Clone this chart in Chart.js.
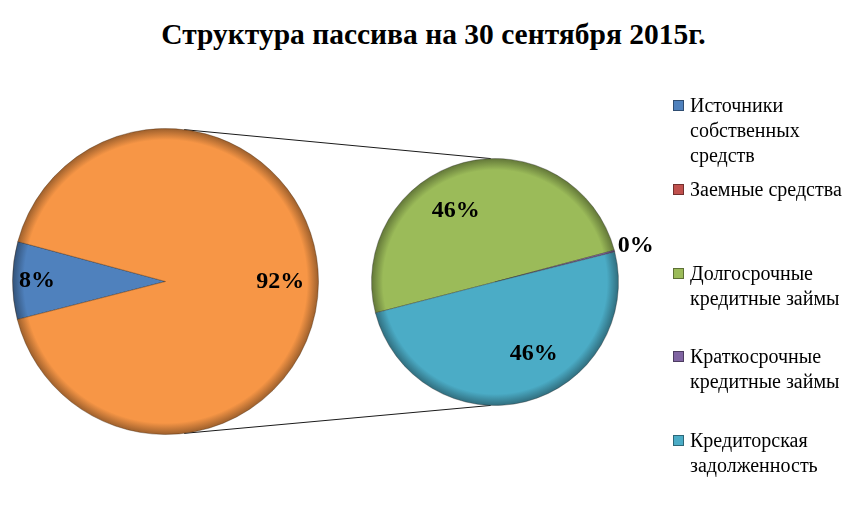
<!DOCTYPE html>
<html>
<head>
<meta charset="utf-8">
<script src="https://cdn.jsdelivr.net/npm/chart.js@4.4.0/dist/chart.umd.min.js"></script>
<style>
  body { margin:0; background:#fff; width:867px; height:514px; position:relative; overflow:hidden;
         font-family:"Liberation Serif","Times New Roman",serif; }
  #title { position:absolute; left:0; width:867px; top:17px; text-align:center; font-weight:bold; font-size:29.5px; line-height:34px; }
  #lines { position:absolute; left:0; top:0; z-index:0; }
  #pie1, #pie2 { position:absolute; z-index:1; }
  #pie1 { left:12px; top:128px; }
  #pie2 { left:331px; top:118px; }
  #legend { position:absolute; left:672px; top:93px; z-index:2; }
  .item { height:83.75px; position:relative; }
  .mark { position:absolute; left:1px; top:7px; width:9px; height:9px; border:1px solid; }
  .txt { margin-left:18px; width:162px; font-size:20px; line-height:25px; color:#000; }
</style>
</head>
<body>
<div id="title"></div>
<canvas id="lines" width="867" height="514"></canvas>
<canvas id="pie1" width="307" height="307"></canvas>
<canvas id="pie2" width="328" height="328"></canvas>
<div id="legend"></div>
<script>
const title = "Структура пассива на 30 сентября 2015г."
const categories = ["Источники собственных средств", "Заемные средства", "Долгосрочные кредитные займы", "Краткосрочные кредитные займы", "Кредиторская задолженность"]
const shares = [8.2, null, 45.8, 0.2, 45.8]
const colors = ["#4F81BD", "#C0504D", "#9BBB59", "#8064A2", "#4BACC6"]
const otherLabel = "Другие"
const otherColor = "#F79646"
const secondCount = 3   // last three points go to the second pie

const total = shares.reduce((s, v) => s + (v || 0), 0)
const firstVals = shares.slice(0, shares.length - secondCount)
const secondVals = shares.slice(shares.length - secondCount)
const otherVal = secondVals.reduce((s, v) => s + (v || 0), 0)

document.getElementById("title").textContent = title

function shade(hex, f){
    const n = parseInt(hex.slice(1), 16)
    const r = Math.round(((n >> 16) & 255) * f), g = Math.round(((n >> 8) & 255) * f), b = Math.round((n & 255) * f)
    return `rgb(${r},${g},${b})`
}

// radial gradient: flat colour with a darker rim, like the Excel bevel
function bevel(palette){
    return function(c){
        const color = palette[c.dataIndex]
        const chart = c.chart
        const area = chart.chartArea
        if(!area) return color
        const cx = (area.left + area.right) / 2, cy = (area.top + area.bottom) / 2
        const r = Math.min(area.right - area.left, area.bottom - area.top) / 2
        const g = chart.ctx.createRadialGradient(cx, cy, 0, cx, cy, r)
        g.addColorStop(0, color)
        g.addColorStop(Math.max(0, 1 - 12 / r), color)
        g.addColorStop(1, shade(color, 0.62))
        return g
    }
}

const sliceLabels = {
    id: "sliceLabels",
    afterDatasetsDraw(chart, args, opts){
        const ctx = chart.ctx
        const meta = chart.getDatasetMeta(0)
        ctx.save()
        ctx.font = 'bold 24px "Liberation Serif", "Times New Roman", serif'
        ctx.fillStyle = "#000"
        ctx.textAlign = "center"
        ctx.textBaseline = "middle"
        meta.data.forEach((arc, i) => {
            const v = opts.values[i]
            if(v == null) return
            const pct = Math.round(v / total * 100)
            let mid = (arc.startAngle + arc.endAngle) / 2
            let r
            if(pct === 0){
                r = arc.outerRadius + 22
            } else {
                mid += (opts.shift || 0) * Math.PI / 180
                r = arc.outerRadius * opts.radius[i]
            }
            ctx.fillText(pct + "%", arc.x + Math.cos(mid) * r, arc.y + Math.sin(mid) * r)
        })
        ctx.restore()
    }
}

function pieOptions(rotation, padding, labelOpts){
    return {
        responsive: false,
        animation: false,
        rotation: rotation,
        layout: { padding: padding },
        plugins: {
            legend: { display: false },
            tooltip: { enabled: false },
            sliceLabels: labelOpts
        }
    }
}

const firstData = firstVals.concat([otherVal])
const firstColors = colors.slice(0, firstVals.length).concat([otherColor])
const secondColors = colors.slice(firstVals.length)

const pie1 = new Chart(document.getElementById("pie1"), {
    type: "pie",
    data: {
        labels: categories.slice(0, firstVals.length).concat([otherLabel]),
        datasets: [{
            data: firstData,
            backgroundColor: bevel(firstColors),
            borderColor: "rgba(60,30,0,0.35)",
            borderWidth: 1
        }]
    },
    options: pieOptions(255.6, 0, { values: firstData, radius: [0.84, 0.7, 0.75] }),
    plugins: [sliceLabels]
})

const pie2 = new Chart(document.getElementById("pie2"), {
    type: "pie",
    data: {
        labels: categories.slice(firstVals.length),
        datasets: [{
            data: secondVals,
            backgroundColor: bevel(secondColors),
            borderColor: "rgba(40,40,40,0.35)",
            borderWidth: 1
        }]
    },
    options: pieOptions(255.5, 40, { values: secondVals, radius: [0.66, 0.66, 0.66], shift: -14 }),
    plugins: [sliceLabels]
})

// connector lines between the two pies
function edgePoint(chart, canvasId, deg){
    const arc = chart.getDatasetMeta(0).data[0]
    const el = document.getElementById(canvasId)
    const a = (deg - 90) * Math.PI / 180
    return [el.offsetLeft + arc.x + Math.cos(a) * arc.outerRadius, el.offsetTop + arc.y + Math.sin(a) * arc.outerRadius]
}
const lc = document.getElementById("lines").getContext("2d")
lc.strokeStyle = "#1a1a1a"
lc.lineWidth = 1
;[[7, -2], [173, 182]].forEach(([d1, d2]) => {
    const p1 = edgePoint(pie1, "pie1", d1)
    const p2 = edgePoint(pie2, "pie2", d2)
    lc.beginPath()
    lc.moveTo(p1[0], p1[1])
    lc.lineTo(p2[0], p2[1])
    lc.stroke()
})

const legend = document.getElementById("legend")
categories.forEach((name, i) => {
    const div = document.createElement("div")
    div.className = "item"
    div.innerHTML = `<span class="mark" style="background:${colors[i]};border-color:${shade(colors[i], 0.6)}"></span><div class="txt">${name}</div>`
    legend.appendChild(div)
})
</script>
</body>
</html>
